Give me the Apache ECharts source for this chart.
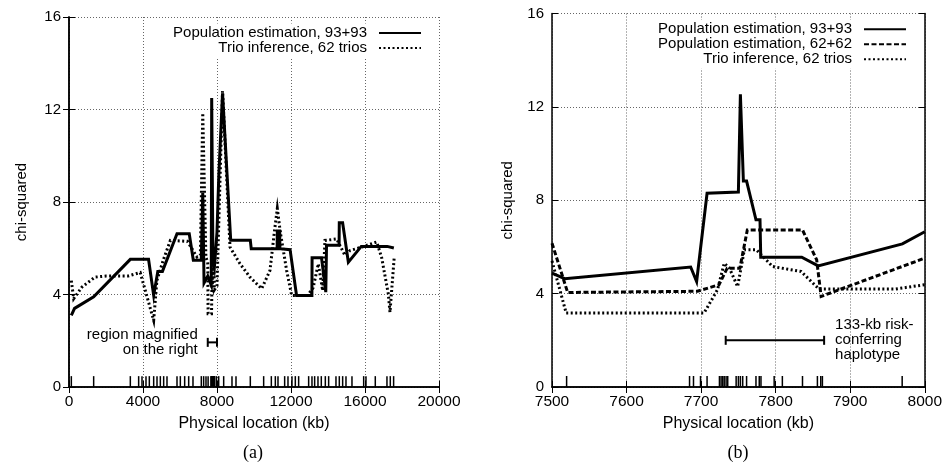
<!DOCTYPE html>
<html><head><meta charset="utf-8">
<script src="https://cdn.jsdelivr.net/npm/echarts@6/dist/echarts.min.js"></script>
<style>html,body{margin:0;padding:0;background:#fff}#c{width:945px;height:469px}</style>
</head><body><div id="c"></div>
<script>
// ---------- data ----------
const NAME_93 = 'Population estimation, 93+93';
const NAME_62 = 'Population estimation, 62+62';
const NAME_TRIO = 'Trio inference, 62 trios';

const aXTicks = [0, 4000, 8000, 12000, 16000, 20000];
const bXTicks = [7500, 7600, 7700, 7800, 7900, 8000];
const yTicks = [0, 4, 8, 12, 16];

// (a) whole region
const aPopKb  = [126, 300, 1333, 3315, 4300, 4577, 4800, 5050, 5838, 6500, 6720, 7150, 7230, 7300, 7500, 7690, 7713, 7780, 7860, 8000, 8100, 8160, 8300, 8740, 9800, 9850, 11250, 11260, 11390, 11400, 11950, 12300, 13130, 13140, 13650, 13880, 13920, 14600, 14610, 14790, 15100, 15800, 17200, 17560];
const aPopChi = [3.1, 3.4, 3.9, 5.52, 5.52, 3.96, 5.0, 5.0, 6.63, 6.63, 5.48, 5.48, 8.4, 4.5, 4.8, 4.4, 12.5, 5.6, 5.2, 6.7, 9.2, 9.2, 12.7, 6.35, 6.35, 5.98, 5.98, 6.75, 6.75, 5.98, 5.94, 3.96, 3.96, 5.59, 5.59, 4.1, 6.13, 6.13, 7.1, 7.1, 5.4, 6.08, 6.08, 6.01];

const aTrioKb  = [126, 254, 700, 1400, 2000, 3200, 3850, 4577, 4750, 5100, 5480, 6400, 6920, 7100, 7230, 7400, 7500, 7519, 7704, 7722, 7731, 7738, 7749, 7758, 7774, 7796, 7834, 7858, 7961, 8000, 8300, 8703, 9243, 9783, 10415, 10864, 11100, 11260, 11420, 11765, 12036, 12900, 13200, 13476, 13713, 13836, 14468, 14918, 15187, 15820, 16631, 16900, 17258, 17350, 17580];
const aTrioChi = [4.6, 3.82, 4.32, 4.75, 4.8, 4.8, 4.95, 2.88, 4.6, 5.5, 6.34, 6.3, 5.62, 5.7, 11.85, 5.6, 5.4, 3.17, 3.17, 4.17, 5.3, 5.09, 4.3, 5.88, 5.88, 5.16, 4.95, 4.2, 4.2, 4.38, 12.8, 6.05, 5.33, 4.75, 4.25, 5.04, 6.7, 7.72, 6.7, 5.04, 3.96, 3.96, 4.3, 5.33, 4.17, 6.34, 6.4, 5.69, 5.9, 6.05, 6.27, 5.6, 4.03, 3.23, 5.62];

// (b) magnified region
const bPopKb  = [7500, 7517, 7686, 7694, 7708, 7750, 7752.7, 7756.7, 7761, 7773.6, 7779, 7780, 7835, 7857, 7970, 8000];
const bPopChi = [4.88, 4.64, 5.14, 4.52, 8.3, 8.35, 12.54, 8.82, 8.82, 7.16, 7.16, 5.56, 5.56, 5.19, 6.13, 6.65];

const b62Kb  = [7500, 7521, 7695, 7724, 7735, 7752, 7762, 7836, 7855, 7861, 8000];
const b62Chi = [6.16, 4.05, 4.1, 4.38, 5.09, 5.09, 6.73, 6.73, 5.45, 3.88, 5.52];

const bTrioKb  = [7500, 7519, 7704, 7722, 7731, 7738, 7749, 7758, 7774, 7796, 7834, 7858, 7961, 8000];
const bTrioChi = [5.4, 3.17, 3.17, 4.17, 5.3, 5.09, 4.3, 5.88, 5.88, 5.16, 4.95, 4.2, 4.2, 4.38];

// marker (SNP) locations
const bMarkerKb = [7519.6, 7684.5, 7689.8, 7699.2, 7708, 7724.6, 7726.8, 7729, 7731, 7733.5, 7735.7, 7747, 7750, 7752.7, 7755.8, 7761, 7773.6, 7778, 7780.3, 7798, 7809, 7836, 7856, 7860.5, 7862.7, 7969.7];
const aMarkerOuterKb = [126, 1333, 3315, 3765, 3946, 4162, 4342, 4577, 4757, 4937, 5117, 5297, 5838, 6018, 6252, 6469, 6702, 7152, 7278, 7405, 8091, 8361, 8810, 9027, 9801, 10522, 10937, 11153, 11297, 11657, 11837, 12053, 12233, 12413, 12954, 13134, 13278, 13458, 13638, 13855, 14035, 14431, 14611, 14792, 14972, 15296, 15928, 16053, 16556, 17187, 17367, 17547];
const aMarkerKb = aMarkerOuterKb.concat(bMarkerKb);

// annotated spans: [startKb, endKb, chi]
const aSpan = [7500, 8000, 1.93];
const aNote = 'region magnified\non the right';
const bSpan = [7733, 7865, 2.0];
const bNote = '133-kb risk-\nconferring\nhaplotype';

// ---------- chart ----------
const FONT = '"Liberation Sans", Arial, sans-serif';
const FS = 15;
const zip = (xs, ys) => xs.map((x, i) => [x, ys[i]]);
const chart = echarts.init(document.getElementById('c'), null, {renderer: 'canvas'});

const axLine = {show: true, lineStyle: {color: '#000', width: 1.5}};
const tick = {show: true, inside: true, length: 6, lineStyle: {color: '#000', width: 1}};
const grid = {show: true, lineStyle: {type: [1, 2], color: '#666', width: 1}};
const lbl = {show: true, margin: 8, fontSize: FS, color: '#000', fontFamily: FONT, formatter: v => String(v)};
const nameStyle = {fontSize: FS, color: '#000', fontFamily: FONT};

function xAxes(gi, ticks, gap) {
  const min = ticks[0], max = ticks[ticks.length - 1], interval = ticks[1] - ticks[0];
  return [
    {gridIndex: gi, type: 'value', position: 'bottom', min, max, interval,
     axisLine: axLine, axisTick: tick, axisLabel: {...lbl, margin: 7, fontSize: 15.5}, splitLine: grid,
     name: 'Physical location (kb)', nameLocation: 'middle', nameGap: gap, nameTextStyle: {...nameStyle, fontSize: 16}},
    {gridIndex: gi, type: 'value', position: 'top', min, max, interval,
     axisLine: axLine, axisTick: tick, axisLabel: {show: false}, splitLine: {show: false}}
  ];
}
function yAxes(gi, gap) {
  const min = yTicks[0], max = yTicks[yTicks.length - 1], interval = yTicks[1] - yTicks[0];
  return [
    {gridIndex: gi, type: 'value', position: 'left', min, max, interval,
     axisLine: axLine, axisTick: tick, axisLabel: lbl, splitLine: grid,
     name: 'chi-squared', nameLocation: 'middle', nameGap: gap, nameRotate: 90, nameTextStyle: nameStyle},
    {gridIndex: gi, type: 'value', position: 'right', min, max, interval,
     axisLine: axLine, axisTick: tick, axisLabel: {show: false}, splitLine: {show: false}}
  ];
}

const solidStyle = {color: '#000', width: 3, type: 'solid', cap: 'butt', join: 'miter'};
const dashStyle = {color: '#000', width: 3, type: [5, 2.5], cap: 'butt', join: 'miter'};
const dotStyle = {color: '#000', width: 3, type: [2, 2.5], cap: 'butt', join: 'miter'};

function lineSeries(name, xi, yi, data, style) {
  return {type: 'line', name, xAxisIndex: xi, yAxisIndex: yi, data, symbol: 'none',
    lineStyle: style, itemStyle: {color: '#000'}, silent: true, clip: true, z: 3};
}
function rugSeries(xi, yi, kbs) {
  return {type: 'custom', xAxisIndex: xi, yAxisIndex: yi, data: kbs.map(k => [k]), silent: true, clip: true,
    renderItem: (p, api) => {
      const a = api.coord([api.value(0), 0]);
      const b = api.coord([api.value(0), 0.47]);
      return {type: 'line', shape: {x1: a[0], y1: a[1], x2: b[0], y2: b[1]}, style: {stroke: '#000', lineWidth: 1.5}};
    }};
}
function spanSeries(xi, yi, span, note, side) {
  return {type: 'custom', xAxisIndex: xi, yAxisIndex: yi, data: [span], silent: true, clip: false, z: 4,
    renderItem: (p, api) => {
      const a = api.coord([api.value(0), api.value(2)]);
      const b = api.coord([api.value(1), api.value(2)]);
      const st = {stroke: '#000', lineWidth: 2};
      const tx = side === 'left' ? a[0] - 10 : b[0] + 11;
      return {type: 'group', children: [
        {type: 'line', shape: {x1: a[0], y1: a[1], x2: b[0], y2: b[1]}, style: st},
        {type: 'line', shape: {x1: a[0], y1: a[1] - 4.5, x2: a[0], y2: a[1] + 4.5}, style: st},
        {type: 'line', shape: {x1: b[0], y1: b[1] - 4.5, x2: b[0], y2: b[1] + 4.5}, style: st},
        {type: 'text', x: tx, y: a[1], style: {text: note, fill: '#000', fontSize: FS, fontFamily: FONT,
          lineHeight: 15, align: side === 'left' ? 'right' : 'left', verticalAlign: 'middle'}}
      ]};
    }};
}

const legendBase = {orient: 'vertical', align: 'right', itemWidth: 42, itemHeight: 10, itemGap: 0,
  selectedMode: false, backgroundColor: '#fff', padding: [2, 0, 2, 4],
  itemStyle: {opacity: 0, color: 'rgba(0,0,0,0)', borderWidth: 0},
  textStyle: {fontSize: FS, color: '#000', fontFamily: FONT, lineHeight: 15, padding: [0, 7, 0, 0]}};

chart.setOption({
  animation: false,
  backgroundColor: '#fff',
  grid: [
    {left: 69, top: 17, width: 370, height: 370},
    {left: 552, top: 13.5, width: 374, height: 373.5}
  ],
  xAxis: [...xAxes(0, aXTicks, 29), ...xAxes(1, bXTicks, 29)],
  yAxis: [...yAxes(0, 40), ...yAxes(1, 37)],
  legend: [
    {...legendBase, data: [NAME_93, NAME_TRIO], right: 523, top: 23.5},
    {...legendBase, data: [NAME_93, NAME_62, NAME_TRIO], right: 38, top: 19.8}
  ],
  series: [
    lineSeries(NAME_TRIO, 0, 0, zip(aTrioKb, aTrioChi), dotStyle),
    lineSeries(NAME_93, 0, 0, zip(aPopKb, aPopChi), solidStyle),
    rugSeries(0, 0, aMarkerKb),
    spanSeries(0, 0, aSpan, aNote, 'left'),
    lineSeries(NAME_93, 2, 2, zip(bPopKb, bPopChi), solidStyle),
    lineSeries(NAME_62, 2, 2, zip(b62Kb, b62Chi), dashStyle),
    lineSeries(NAME_TRIO, 2, 2, zip(bTrioKb, bTrioChi), dotStyle),
    rugSeries(2, 2, bMarkerKb),
    spanSeries(2, 2, bSpan, bNote, 'right')
  ],
  graphic: [
    {type: 'text', x: 253, y: 453, style: {text: '(a)', fontSize: 18, fontFamily: '"Liberation Serif", serif', fill: '#000', align: 'center', verticalAlign: 'middle'}},
    {type: 'text', x: 738, y: 453, style: {text: '(b)', fontSize: 18, fontFamily: '"Liberation Serif", serif', fill: '#000', align: 'center', verticalAlign: 'middle'}}
  ]
});
</script>
</body></html>
